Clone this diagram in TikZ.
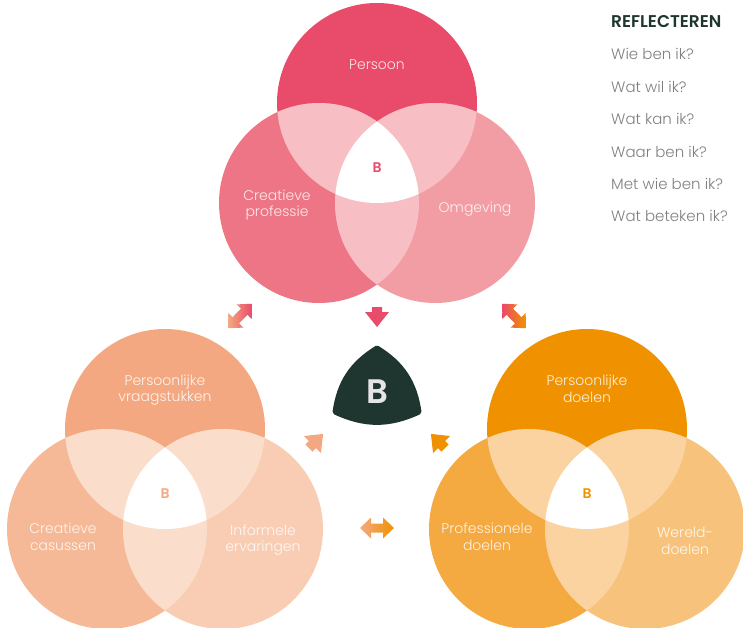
\documentclass[tikz,border=0pt]{standalone}
\usepackage{fontspec}
\setmainfont{Poppins}[UprightFont=* Light, BoldFont=* SemiBold]
\usetikzlibrary{calc}
% top group (pink)
\definecolor{pA}{HTML}{E94B6A}
\definecolor{pB}{HTML}{EE7585}
\definecolor{pC}{HTML}{F29CA3}
\definecolor{pX}{HTML}{F7BEC4}
% bottom-left group (salmon)
\definecolor{vA}{HTML}{F4A881}
\definecolor{vB}{HTML}{F6B997}
\definecolor{vC}{HTML}{F9CDB3}
\definecolor{vX}{HTML}{FADDCB}
% bottom-right group (orange)
\definecolor{dA}{HTML}{F09200}
\definecolor{dB}{HTML}{F4A941}
\definecolor{dC}{HTML}{F7C37C}
\definecolor{dX}{HTML}{FAD3A0}
\definecolor{darkgreen}{HTML}{1F3530}
\definecolor{listgray}{HTML}{808080}
\def\rad{100}
\tikzset{
  circlabel/.style = {font=\fontsize{14}{16.5}\selectfont, text=white,
                      text opacity=0.85, align=center},
  smallB/.style    = {font=\fontsize{14}{14}\selectfont\bfseries},
  listitem/.style  = {anchor=west, inner sep=0pt, text=listgray,
                      font=\fontsize{15}{15}\selectfont},
  pics/onearrow/.style = {code={
    \fill (-10,-5) -- (-5,-5) -- (-5,-12) -- (10,0) -- (-5,12)
          -- (-5,5) -- (-10,5) -- cycle;}},
  pics/twoarrow/.style 2 args = {code={
    \path[left color=#1, right color=#2] (-17,0) -- (-6,-10.5) -- (-6,-4.5)
          -- (6,-4.5) -- (6,-10.5) -- (17,0) -- (6,10.5) -- (6,4.5)
          -- (-6,4.5) -- (-6,10.5) -- cycle;}}
}

\begin{document}
\begin{tikzpicture}[x=1pt,y=-1pt]
\useasboundingbox (0,0) rectangle (743,628);

% --- circle centres of the three groups ---
\foreach \g/\cx/\cy in {p/377/103, v/165/429, d/587/429}{
  \coordinate (\g a) at (\cx,\cy);
  \coordinate (\g b) at (\cx-58,\cy+100);
  \coordinate (\g c) at (\cx+58,\cy+100);
  \coordinate (\g m) at (\cx,\cy+65);
}

% --- venn diagrams ---
\foreach \g in {p,v,d}{
  \fill[\g A] (\g a) circle[radius=\rad];
  \fill[\g B] (\g b) circle[radius=\rad];
  \fill[\g C] (\g c) circle[radius=\rad];
  \begin{scope} % overlaps with top circle
    \clip (\g a) circle[radius=\rad];
    \fill[\g X] (\g b) circle[radius=\rad];
    \fill[\g X] (\g c) circle[radius=\rad];
  \end{scope}
  \begin{scope}
    \clip (\g b) circle[radius=\rad];
    \fill[\g X] (\g c) circle[radius=\rad];
  \end{scope}
  \begin{scope} % centre of each diagram
    \clip (\g a) circle[radius=\rad];
    \clip (\g b) circle[radius=\rad];
    \fill[white] (\g c) circle[radius=\rad];
  \end{scope}
  \node[smallB, text=\g A] (B\g) at (\g m) {B};
}

% --- labels in the circles ---
\node[circlabel] (persoon)  at (377,65)  {Persoon};
\node[circlabel] (creaprof) at (277,205) {Creatieve\\professie};
\node[circlabel] (omgeving) at (475,209) {Omgeving};
\node[circlabel] (vraag)    at (165,390) {Persoonlijke\\vraagstukken};
\node[circlabel] (casus)    at (63,537)  {Creatieve\\casussen};
\node[circlabel] (informeel) at (263,540) {Informele\\ervaringen};
\node[circlabel] (pdoel)    at (587,389) {Persoonlijke\\doelen};
\node[circlabel] (prdoel)   at (487,537) {Professionele\\doelen};
\node[circlabel] (wdoel)    at (685,541) {Wereld-\\doelen};

% --- central B ---
\coordinate (rt) at (377,348);
\coordinate (rl) at (335,412);
\coordinate (rr) at (419,412);
\filldraw[darkgreen, line width=5pt, line join=round]
  (rt) to[bend left=25] (rr) to[bend left=25] (rl)
  to[bend left=25] (rt) -- cycle;
\node[font=\fontsize{34}{34}\selectfont\bfseries, text=white!90!black]
  (bigB) at (377,392) {B};

% --- arrows ---
\pic[fill=pA, rotate=-90] at (377,317) {onearrow};
\pic[fill=vA, rotate=45]  at (316,441) {onearrow};
\pic[fill=dA, rotate=135] at (438,441) {onearrow};
\pic[rotate=46]  at (240,316) {twoarrow={vA}{pA}};
\pic[rotate=-46] at (514,316) {twoarrow={pA}{dA}};
\pic at (377,528) {twoarrow={vA}{dA}};

% --- questions ---
\node[listitem, text=darkgreen, font=\fontsize{17}{17}\selectfont\bfseries]
  (refl) at (611,22) {REFLECTEREN};
\foreach \q [count=\i] in {Wie ben ik?, Wat wil ik?, Wat kan ik?,
                           Waar ben ik?, Met wie ben ik?, Wat beteken ik?}{
  \node[listitem] (q\i) at (611,22+32.4*\i) {\q};
}

\end{tikzpicture}
\end{document}
